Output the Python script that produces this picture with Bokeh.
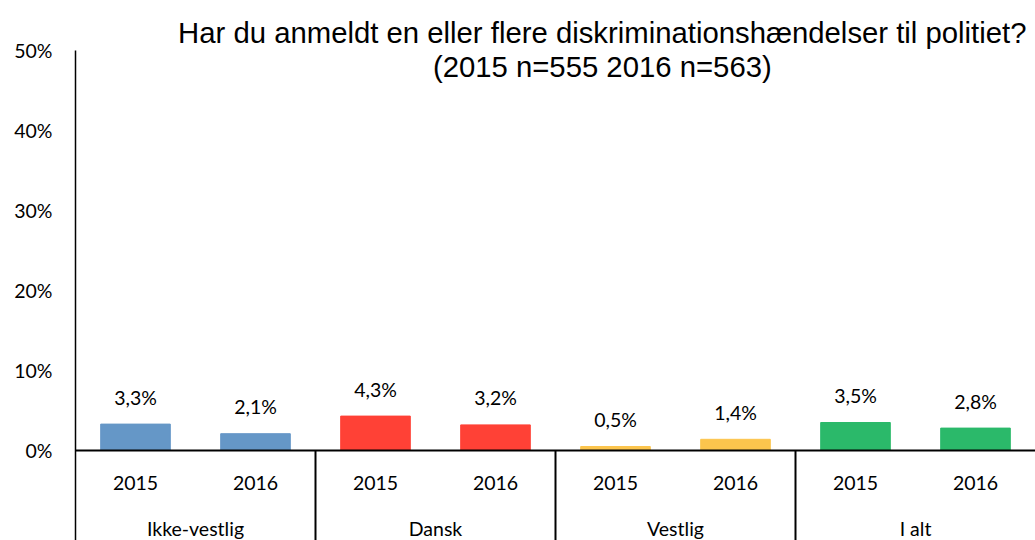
from bokeh.plotting import figure
from bokeh.models import (ColumnDataSource, FactorRange, Range1d, FixedTicker,
                          PrintfTickFormatter, Span, Label)
from bokeh.core.properties import value
from bokeh.embed import file_html
from bokeh.resources import INLINE

# ---- data ----
groups = ["Ikke-vestlig", "Dansk", "Vestlig", "I alt"]
years = ["2015", "2016"]
values_2015 = [3.3, 4.3, 0.5, 3.5]
values_2016 = [2.1, 3.2, 1.4, 2.8]
group_colors = ["#6597C7", "#FF4136", "#FCC54D", "#2BB96A"]
y_ticks = [0, 10, 20, 30, 40, 50]
title_line1 = "Har du anmeldt en eller flere diskriminationshændelser til politiet?"
title_line2 = "(2015 n=555 2016 n=563)"

factors, vals, cols = [], [], []
for g, v15, v16, c in zip(groups, values_2015, values_2016, group_colors):
    for y, v in zip(years, (v15, v16)):
        factors.append((g, y))
        vals.append(v)
        cols.append(c)

labels = [f"{v:.1f}".replace(".", ",") + "%" for v in vals]
src = ColumnDataSource(dict(x=factors, top=vals, color=cols, label=labels,
                            year=[f[1] for f in factors], zero=[0] * len(factors)))

Y_MIN, Y_MAX = -11.25, 56.25
p = figure(width=1035, height=540, output_backend="svg", toolbar_location=None,
           x_range=FactorRange(*factors, group_padding=0, factor_padding=0, range_padding=0),
           y_range=Range1d(Y_MIN, Y_MAX), x_axis_location=None,
           min_border_left=75, min_border_right=0, min_border_top=0, min_border_bottom=0)
p.outline_line_color = None
p.xgrid.visible = False
p.ygrid.visible = False

ax = p.yaxis[0]
ax.ticker = FixedTicker(ticks=y_ticks)
ax.formatter = PrintfTickFormatter(format="%d%%")
ax.bounds = (Y_MIN, 50)
ax.major_tick_out = 0
ax.major_tick_in = 0
ax.minor_tick_out = 0
ax.minor_tick_in = 0
ax.axis_line_color = "black"
ax.axis_line_width = 1.5
ax.major_label_standoff = 23
ax.major_label_text_font = "Lato"
ax.major_label_text_font_size = "19.5px"
ax.major_label_text_color = "black"

FONT = value("Lato")
p.vbar(x="x", top="top", width=0.58, color="color", source=src)

p.text(x="x", y="top", text="label", source=src, y_offset=-27,
       text_align="center", text_baseline="middle", text_font=FONT,
       text_font_size="19.5px", text_color="black")

p.text(x="x", y="zero", text="year", source=src, y_offset=32,
       text_align="center", text_baseline="middle", text_font=FONT,
       text_font_size="19.5px", text_color="black")

gsrc = ColumnDataSource(dict(x=groups, y=[0] * len(groups), t=groups))
p.text(x="x", y="y", text="t", source=gsrc, y_offset=78,
       text_align="center", text_baseline="middle", text_font=FONT,
       text_font_size="19.5px", text_color="black")

seps = [(g, years[0], -0.5) for g in groups[1:]]
ssrc = ColumnDataSource(dict(x=seps, y0=[0] * len(seps), y1=[Y_MIN] * len(seps)))
p.segment(x0="x", y0="y0", x1="x", y1="y1", source=ssrc, line_color="black", line_width=2)

p.add_layout(Span(location=0, dimension="width", line_color="black", line_width=2))

for txt, yy in ((title_line1, 52.2), (title_line2, 48.0)):
    p.add_layout(Label(x=4.39, y=yy, text=txt, text_align="center",
                       text_baseline="alphabetic", text_font="Liberation Sans",
                       text_font_size="29.3px", text_color="black"))

open("out.html", "w").write(file_html(p, INLINE))
